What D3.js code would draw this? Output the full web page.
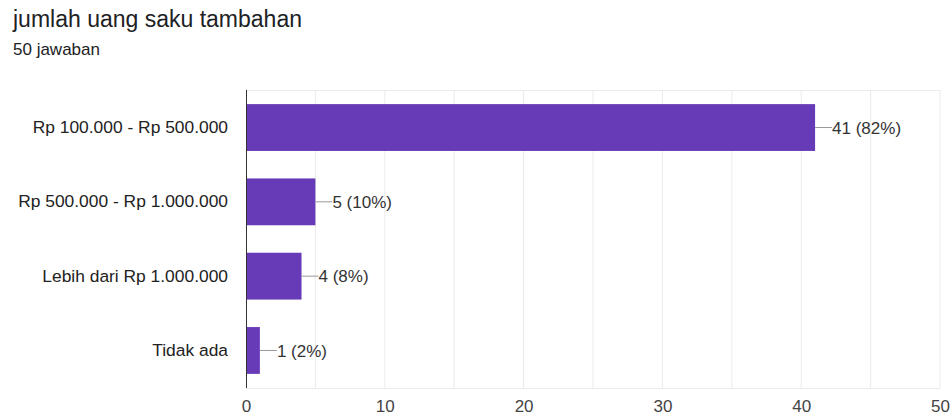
<!DOCTYPE html>
<html>
<head>
<meta charset="utf-8">
<script src="https://cdn.jsdelivr.net/npm/d3@7"></script>
<style>
  body { margin: 0; background: #fff; }
  text { font-family: "Liberation Sans", Arial, sans-serif; }
</style>
</head>
<body>
<svg id="chart" width="951" height="418"></svg>
<script>
const categories = ["Rp 100.000 - Rp 500.000", "Rp 500.000 - Rp 1.000.000", "Lebih dari Rp 1.000.000", "Tidak ada"];
const counts = [41, 5, 4, 1];
const percents = ["82%", "10%", "8%", "2%"];
const xTicks = [0, 10, 20, 30, 40, 50];
const gridTicks = [5, 10, 15, 20, 25, 30, 35, 40, 45, 50];

const data = categories.map((c, i) => ({ cat: c, value: counts[i], pct: percents[i] }));

const svg = d3.select("#chart");
const plotLeft = 246, plotRight = 940, plotTop = 90, plotBottom = 388;

// title
svg.append("text")
  .attr("x", 13).attr("y", 27)
  .attr("font-family", "Roboto, sans-serif")
  .attr("font-size", 23)
  .attr("fill", "#202124")
  .text("jumlah uang saku tambahan");
svg.append("text")
  .attr("x", 13).attr("y", 55)
  .attr("font-family", "Roboto, sans-serif")
  .attr("font-size", 17)
  .attr("fill", "#202124")
  .text("50 jawaban");

const x = d3.scaleLinear().domain([0, 50]).range([plotLeft, plotRight]);
const y = d3.scaleBand().domain(categories).range([plotTop, plotBottom]).paddingInner(0.37).paddingOuter(0.19);

// grid
svg.append("g").selectAll("line")
  .data(gridTicks)
  .join("line")
  .attr("x1", d => x(d)).attr("x2", d => x(d))
  .attr("y1", plotTop).attr("y2", plotBottom)
  .attr("stroke", "#ebebeb");
svg.append("line")
  .attr("x1", plotLeft).attr("x2", plotRight)
  .attr("y1", plotTop + 0.5).attr("y2", plotTop + 0.5)
  .attr("stroke", "#ebebeb");
svg.append("line")
  .attr("x1", plotLeft).attr("x2", plotRight)
  .attr("y1", plotBottom + 0.5).attr("y2", plotBottom + 0.5)
  .attr("stroke", "#ebebeb");

// bars
svg.append("g").selectAll("rect")
  .data(data)
  .join("rect")
  .attr("x", x(0))
  .attr("y", d => y(d.cat))
  .attr("width", d => x(d.value) - x(0))
  .attr("height", y.bandwidth())
  .attr("fill", "#673ab7");

// leader lines + value labels
const lab = svg.append("g");
lab.selectAll("line")
  .data(data)
  .join("line")
  .attr("x1", d => x(d.value)).attr("x2", d => x(d.value) + 17)
  .attr("y1", d => y(d.cat) + y.bandwidth() / 2)
  .attr("y2", d => y(d.cat) + y.bandwidth() / 2)
  .attr("stroke", "#999");
lab.selectAll("text")
  .data(data)
  .join("text")
  .attr("x", d => x(d.value) + 17)
  .attr("y", d => y(d.cat) + y.bandwidth() / 2)
  .attr("dy", "0.36em")
  .attr("font-size", 17)
  .attr("fill", "#333")
  .text(d => `${d.value} (${d.pct})`);

// y axis
const yAxis = svg.append("g")
  .attr("transform", `translate(${plotLeft},0)`)
  .call(d3.axisLeft(y).tickSize(0).tickPadding(18));
yAxis.select(".domain").attr("stroke", "#333").attr("d", `M0.5,${plotTop}V${plotBottom}`);
yAxis.selectAll("text").attr("font-size", 17.4).attr("fill", "#222")
  .attr("font-family", "'Liberation Sans', Arial, sans-serif");

// x axis
const xAxis = svg.append("g")
  .attr("transform", `translate(0,${plotBottom})`)
  .call(d3.axisBottom(x).tickValues(xTicks).tickSize(0).tickPadding(12));
xAxis.select(".domain").remove();
xAxis.selectAll("text").attr("font-size", 17).attr("fill", "#444")
  .attr("font-family", "'Liberation Sans', Arial, sans-serif");
</script>
</body>
</html>
